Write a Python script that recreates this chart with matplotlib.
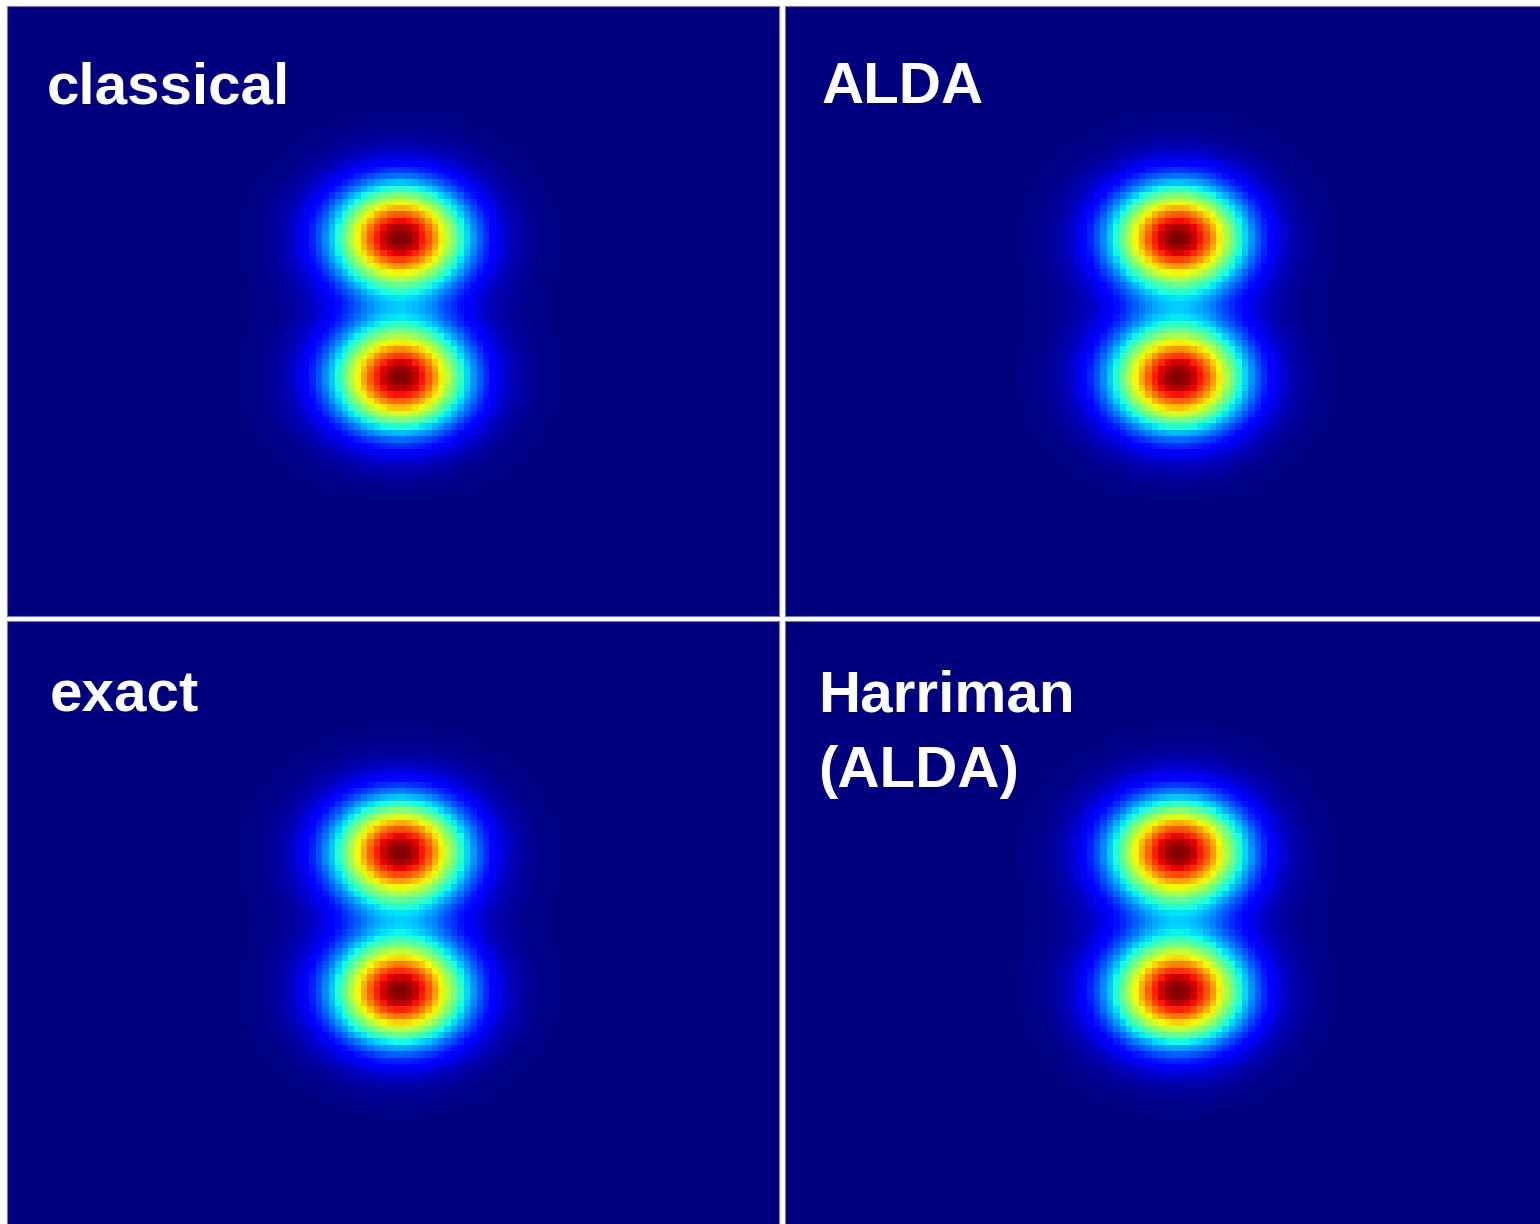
import numpy as np
import matplotlib
matplotlib.use("Agg")
import matplotlib.pyplot as plt

# panel titles (one per panel, row by row); a list entry is one line
labels = [["classical"], ["ALDA"], ["exact"], ["Harriman", "(ALDA)"]]

# two density lobes per panel: centre x, centre y, width x, width y, height
lobe_x = [[0.11, 0.11], [0.11, 0.11], [0.11, 0.11], [0.11, 0.11]]
lobe_y = [[1.15, -1.04], [1.15, -1.04], [1.16, -1.02], [1.16, -1.02]]
width_x = [0.70, 0.70, 0.70, 0.70]
width_y = [0.56, 0.56, 0.56, 0.56]
height = [1.0, 1.0, 1.0, 1.0]
# faint wide tail around each lobe
halo_height = [0.06, 0.06, 0.06, 0.06]
halo_scale = [1.45, 1.45, 1.45, 1.45]

# simulation box and grid
x_lim = 6.0
y_lim = 4.74
nx, ny = 120, 95

xs = np.linspace(-x_lim, x_lim, nx)
ys = np.linspace(-y_lim, y_lim, ny)
X, Y = np.meshgrid(xs, ys)

W, H = 1540, 1224
fig = plt.figure(figsize=(W / 100, H / 100), dpi=100)
fig.patch.set_facecolor("white")

pw, ph = 772, 610
# panel corners (left, top) in pixels
corners = [(7, 6), (785, 6), (7, 621), (785, 621)]
text_pos = [(40, 97), (37, 97), (43, 90), (33, 90)]
line_gap = 76


def lobe(cx, cy, sx, sy):
    return np.exp(-((X - cx) ** 2 / (2 * sx ** 2) + (Y - cy) ** 2 / (2 * sy ** 2)))


for i, (lx, ty) in enumerate(corners):
    ax = fig.add_axes([lx / W, 1 - (ty + ph) / H, pw / W, ph / H])
    rho = np.zeros_like(X)
    for cx, cy in zip(lobe_x[i], lobe_y[i]):
        rho += height[i] * lobe(cx, cy, width_x[i], width_y[i])
        rho += halo_height[i] * lobe(cx, cy, width_x[i] * halo_scale[i],
                                     width_y[i] * halo_scale[i])
    ax.imshow(rho, cmap="jet", origin="lower", aspect="auto",
              extent=[-x_lim, x_lim, -y_lim, y_lim],
              interpolation="nearest", vmin=0, vmax=rho.max())
    ax.set_xticks([])
    ax.set_yticks([])
    for sp in ax.spines.values():
        sp.set_color("#7a7aa8")
        sp.set_linewidth(0.8)
    tx, tyy = text_pos[i]
    for k, line in enumerate(labels[i]):
        ax.text(tx / pw, 1 - (tyy + k * line_gap) / ph, line,
                transform=ax.transAxes, color="white", fontsize=42,
                fontweight="bold", family="Liberation Sans",
                ha="left", va="baseline")

fig.savefig("out.png", dpi=100, facecolor="white")
